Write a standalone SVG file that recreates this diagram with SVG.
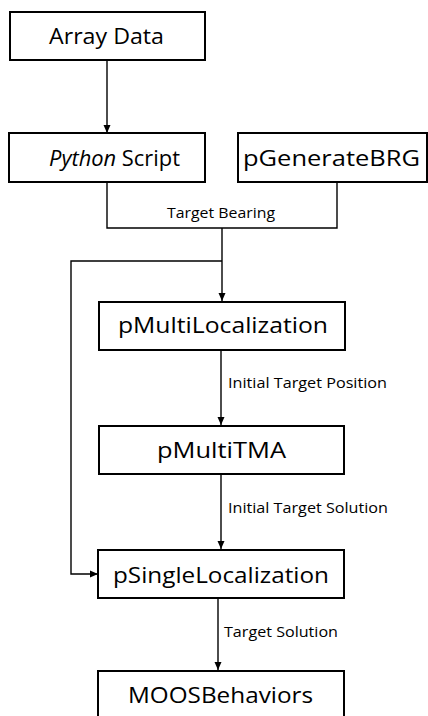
<svg xmlns="http://www.w3.org/2000/svg" width="428" height="716" viewBox="0 0 428 716">
<style>
.box{fill:#fff;stroke:#000;stroke-width:2}
.t{font-family:"Open Sans","Noto Sans",sans-serif;font-size:22.5px;fill:#000}
.l{font-family:"Open Sans","Noto Sans",sans-serif;font-size:14.5px;fill:#000}
.c{fill:none;stroke:#000;stroke-width:1.4}
</style>
<defs>
<marker id="ah" markerWidth="8" markerHeight="8" refX="8" refY="4" orient="auto" markerUnits="userSpaceOnUse">
<path d="M0,0.5 L8,4 L0,7.5 Z" fill="#000"/>
</marker>
</defs>
<rect width="428" height="716" fill="#fff"/>
<g id="connectors">
<path class="c" d="M107,60 V133" marker-end="url(#ah)"/>
<path class="c" d="M107,182 V228 H337 V182"/>
<path class="c" d="M222,228 V301" marker-end="url(#ah)"/>
<path class="c" d="M222,261 H71 V574 H98" marker-end="url(#ah)"/>
<path class="c" d="M221,350 V425" marker-end="url(#ah)"/>
<path class="c" d="M221,474 V549" marker-end="url(#ah)"/>
<path class="c" d="M218,598 V670" marker-end="url(#ah)"/>
<text class="l" x="167" y="218" textLength="108" lengthAdjust="spacingAndGlyphs">Target Bearing</text>
<text class="l" x="228" y="388" textLength="159" lengthAdjust="spacingAndGlyphs">Initial Target Position</text>
<text class="l" x="228" y="513" textLength="160" lengthAdjust="spacingAndGlyphs">Initial Target Solution</text>
<text class="l" x="224" y="637" textLength="114" lengthAdjust="spacingAndGlyphs">Target Solution</text>
</g>
<g id="array-data">
<rect class="box" x="10" y="12" width="195" height="48"/>
<text class="t" x="49" y="44" textLength="115" lengthAdjust="spacingAndGlyphs">Array Data</text>
</g>
<g id="python-script">
<rect class="box" x="9" y="133" width="196" height="49"/>
<text class="t" x="49" y="166" textLength="131" lengthAdjust="spacingAndGlyphs"><tspan font-style="italic">Python</tspan> Script</text>
</g>
<g id="pgeneratebrg">
<rect class="box" x="238" y="133" width="189" height="49"/>
<text class="t" x="243" y="166" textLength="177" lengthAdjust="spacingAndGlyphs">pGenerateBRG</text>
</g>
<g id="pmultilocalization">
<rect class="box" x="99" y="302" width="246" height="48"/>
<text class="t" x="118" y="333" textLength="210" lengthAdjust="spacingAndGlyphs">pMultiLocalization</text>
</g>
<g id="pmultitma">
<rect class="box" x="99" y="426" width="245" height="48"/>
<text class="t" x="157" y="458" textLength="129" lengthAdjust="spacingAndGlyphs">pMultiTMA</text>
</g>
<g id="psinglelocalization">
<rect class="box" x="98" y="550" width="246" height="48"/>
<text class="t" x="113" y="583" textLength="216" lengthAdjust="spacingAndGlyphs">pSingleLocalization</text>
</g>
<g id="moosbehaviors">
<rect class="box" x="98" y="671" width="246" height="60"/>
<text class="t" x="128" y="703" textLength="185" lengthAdjust="spacingAndGlyphs">MOOSBehaviors</text>
</g>
</svg>
